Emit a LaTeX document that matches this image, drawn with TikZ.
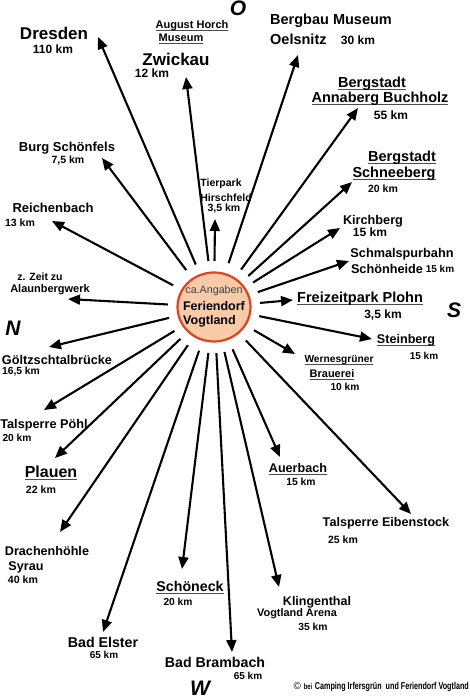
\documentclass[tikz,border=0pt]{standalone}
\usepackage{fontspec}
\setmainfont{Liberation Sans}
\usetikzlibrary{arrows.meta,shapes.geometric}
\definecolor{peach}{HTML}{F8CBA8}
\definecolor{ringred}{HTML}{E5411F}
\newcommand{\fsz}[1]{\fontsize{#1}{#1}\selectfont}
\newcommand{\ulx}[1]{\setbox0\hbox{#1}\leavevmode\rlap{\color{black!70}\rule[-2.6pt]{\wd0}{1.2pt}}\box0}
\begin{document}
\begin{tikzpicture}[x=1pt,y=-1pt,
  lbl/.style={inner sep=0pt,font=\bfseries},
  arr/.style={line width=2.1pt,-{Triangle[length=12pt,width=10pt]}},
  dirl/.style={inner sep=0pt,font=\bfseries\itshape\fsz{21}}]
\useasboundingbox[fill=white] (0,0) rectangle (470,699);

% centre
\node[ellipse,draw=ringred,fill=peach,line width=2.2pt,minimum width=73pt,minimum height=69pt,inner sep=0pt] (ring) at (214,307) {};
\node[circle,minimum size=92pt,inner sep=0pt] (hub) at (214,307) {};
\node[inner sep=0pt,font=\fsz{10.7},text=black!75] (ca) at (214,291) {ca.Angaben};
\node[lbl,font=\bfseries\fsz{12.5}] (fd) at (214,306) {Feriendorf};
\node[lbl,font=\bfseries\fsz{12.5},anchor=west] (vg) at (183,321) {Vogtland};

% arrow tips
\coordinate (tZwickau) at (186,77);
\coordinate (tTier) at (215,219);
\coordinate (tDresden) at (98,37);
\coordinate (tBurg) at (102,158);
\coordinate (tReich) at (52,221);
\coordinate (tAlaun) at (68,299);
\coordinate (tGoel) at (49,347);
\coordinate (tPoehl) at (44,410);
\coordinate (tPlauen) at (55,458);
\coordinate (tDrach) at (60,532);
\coordinate (tElster) at (103,632);
\coordinate (tSchoen) at (182,569);
\coordinate (tBrambach) at (232,652);
\coordinate (tKling) at (279,587);
\coordinate (tAuer) at (280,457);
\coordinate (tEiben) at (411,514);
\coordinate (tWern) at (295,354);
\coordinate (tStein) at (372,339);
\coordinate (tPlohn) at (293,300);
\coordinate (tSchmal) at (349,261);
\coordinate (tKirch) at (340,228);
\coordinate (tSchnee) at (352,182);
\coordinate (tAnna) at (358,108);
\coordinate (tOels) at (298,55);

\foreach \t in {tZwickau,tTier,tDresden,tBurg,tReich,tAlaun,tGoel,tPoehl,tPlauen,tDrach,tElster,tSchoen,tBrambach,tKling,tAuer,tEiben,tWern,tStein,tPlohn,tSchmal,tKirch,tSchnee,tAnna,tOels}
  \draw[arr] (hub) -- (\t);

% labels
\node[lbl,font=\bfseries\fsz{17}] (lDresden) at (54,33) {Dresden};
\node[lbl,font=\bfseries\fsz{12}] (kDresden) at (53,49) {110 km};
\node[lbl,font=\bfseries\fsz{11}] (lHorchA) at (192,26) {\ulx{August Horch}};
\node[lbl,font=\bfseries\fsz{11}] (lHorchB) at (181,39) {\ulx{Museum}};
\node[lbl,font=\bfseries\fsz{17}] (lZwickau) at (176,59) {Zwickau};
\node[lbl,font=\bfseries\fsz{12}] (kZwickau) at (152,73) {12 km};
\node[lbl,font=\bfseries\fsz{14.5}] (lOelsA) at (331,21) {Bergbau Museum};
\node[lbl,font=\bfseries\fsz{14.5},anchor=west] (lOelsB) at (270,39) {Oelsnitz};
\node[lbl,font=\bfseries\fsz{12}] (kOels) at (358,40) {30 km};
\node[lbl,font=\bfseries\fsz{14.5}] (lAnnaA) at (372,84) {\ulx{Bergstadt}};
\node[lbl,font=\bfseries\fsz{14.5}] (lAnnaB) at (380,99) {\ulx{Annaberg Buchholz}};
\node[lbl,font=\bfseries\fsz{12}] (kAnna) at (391,115) {55 km};
\node[lbl,font=\bfseries\fsz{13}] (lBurg) at (67,148) {Burg Schönfels};
\node[lbl,font=\bfseries\fsz{10.5}] (kBurg) at (68,161) {7,5 km};
\node[lbl,font=\bfseries\fsz{13}] (lReich) at (53,208) {Reichenbach};
\node[lbl,font=\bfseries\fsz{10.5}] (kReich) at (20,223) {13 km};
\node[lbl,font=\bfseries\fsz{10.5}] (lAlaunA) at (40,277) {z. Zeit zu};
\node[lbl,font=\bfseries\fsz{11}] (lAlaunB) at (50,290) {Alaunbergwerk};
\node[lbl,font=\bfseries\fsz{10.5}] (lTierA) at (221,184) {Tierpark};
\node[lbl,font=\bfseries\fsz{10.5}] (lTierB) at (226,198) {Hirschfeld};
\node[lbl,font=\bfseries\fsz{10.5}] (kTier) at (224,209) {3,5 km};
\node[lbl,font=\bfseries\fsz{14.5}] (lSchneeA) at (402,158) {\ulx{Bergstadt}};
\node[lbl,font=\bfseries\fsz{14.5}] (lSchneeB) at (394,174) {\ulx{Schneeberg}};
\node[lbl,font=\bfseries\fsz{10.5}] (kSchnee) at (383,189) {20 km};
\node[lbl,font=\bfseries\fsz{12.7}] (lKirch) at (373,221) {Kirchberg};
\node[lbl,font=\bfseries\fsz{12}] (kKirch) at (370,232) {15 km};
\node[lbl,font=\bfseries\fsz{12.7}] (lSchmalA) at (402,254) {Schmalspurbahn};
\node[lbl,font=\bfseries\fsz{12.7}] (lSchmalB) at (387,269) {Schönheide};
\node[lbl,font=\bfseries\fsz{10}] (kSchmal) at (440,269) {15 km};
\node[lbl,font=\bfseries\fsz{14.5},anchor=west] (lPlohn) at (297,299) {\ulx{Freizeitpark Plohn}};
\node[lbl,font=\bfseries\fsz{12}] (kPlohn) at (383,315) {3,5 km};
\node[lbl,font=\bfseries\fsz{12.6}] (lStein) at (406,340) {\ulx{Steinberg}};
\node[lbl,font=\bfseries\fsz{10}] (kStein) at (424,356) {15 km};
\node[lbl,font=\bfseries\fsz{10.2}] (lWernA) at (339,360) {\ulx{Wernesgrüner}};
\node[lbl,font=\bfseries\fsz{11}] (lWernB) at (332,375) {\ulx{Brauerei}};
\node[lbl,font=\bfseries\fsz{10.2}] (kWern) at (345,387) {10 km};
\node[lbl,font=\bfseries\fsz{12.6}] (lAuer) at (298,469) {\ulx{Auerbach}};
\node[lbl,font=\bfseries\fsz{10.3}] (kAuer) at (301,482) {15 km};
\node[lbl,font=\bfseries\fsz{12.6}] (lEiben) at (386,523) {Talsperre Eibenstock};
\node[lbl,font=\bfseries\fsz{10.5}] (kEiben) at (343,540) {25 km};
\node[lbl,font=\bfseries\fsz{12.5}] (lKlingA) at (317,602) {Klingenthal};
\node[lbl,font=\bfseries\fsz{10.9}] (lKlingB) at (297,614) {Vogtland Arena};
\node[lbl,font=\bfseries\fsz{10.3}] (kKling) at (313,627) {35 km};
\node[lbl,font=\bfseries\fsz{14.2}] (lBrambach) at (215,662) {Bad Brambach};
\node[lbl,font=\bfseries\fsz{10}] (kBrambach) at (248,676) {65 km};
\node[lbl,font=\bfseries\fsz{14.2}] (lSchoen) at (190,588) {\ulx{Schöneck}};
\node[lbl,font=\bfseries\fsz{10.2}] (kSchoen) at (178,602) {20 km};
\node[lbl,font=\bfseries\fsz{14.2}] (lElster) at (103,642) {Bad Elster};
\node[lbl,font=\bfseries\fsz{10}] (kElster) at (104,655) {65 km};
\node[lbl,font=\bfseries\fsz{12.6}] (lDrachA) at (47,551) {Drachenhöhle};
\node[lbl,font=\bfseries\fsz{12.6}] (lDrachB) at (26,567) {Syrau};
\node[lbl,font=\bfseries\fsz{10.6}] (kDrach) at (23,580) {40 km};
\node[lbl,font=\bfseries\fsz{16}] (lPlauen) at (51,473) {\ulx{Plauen}};
\node[lbl,font=\bfseries\fsz{10.6}] (kPlauen) at (41,490) {22 km};
\node[lbl,font=\bfseries\fsz{12.7}] (lPoehl) at (44,425) {Talsperre Pöhl};
\node[lbl,font=\bfseries\fsz{10.2}] (kPoehl) at (17,438) {20 km};
\node[lbl,font=\bfseries\fsz{12.7}] (lGoel) at (57,360) {Göltzschtalbrücke};
\node[lbl,font=\bfseries\fsz{10.3}] (kGoel) at (21,372) {16,5 km};

% compass letters
\node[dirl] (dO) at (238,8) {O};
\node[dirl] (dN) at (13,328) {N};
\node[dirl] (dS) at (454,310) {S};
\node[dirl] (dW) at (200,688) {W};

% copyright
\node[inner sep=0pt,anchor=east] (copy) at (469,687) {\fsz{10}\textcopyright\ \scalebox{0.72}[1]{\bfseries\fsz{8}bei} \scalebox{0.72}[1]{\bfseries\fsz{10}Camping Irfersgrün\ \ und Feriendorf Vogtland}};
\end{tikzpicture}
\end{document}
